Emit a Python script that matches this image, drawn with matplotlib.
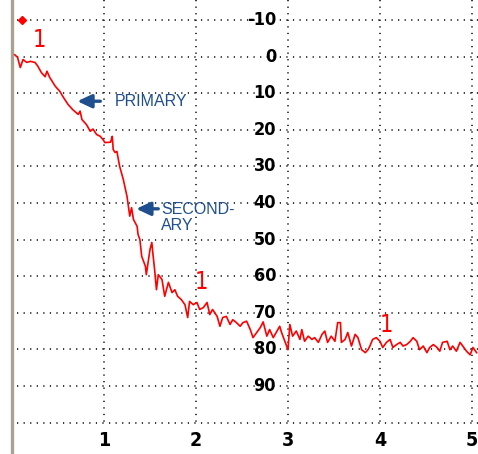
import numpy as np
import matplotlib.pyplot as plt

# curve: x (time) and depth
x = [0.03, 0.06, 0.09, 0.12, 0.16, 0.20, 0.25, 0.28, 0.32, 0.36, 0.38, 0.41,
     0.47, 0.52, 0.56, 0.61, 0.66, 0.72, 0.74, 0.76, 0.81, 0.85, 0.88, 0.92,
     0.96, 0.99, 1.01, 1.07, 1.08, 1.09, 1.10, 1.12, 1.14, 1.17, 1.21, 1.25,
     1.28, 1.30, 1.32, 1.36, 1.37, 1.39, 1.41, 1.45, 1.46, 1.50, 1.52, 1.53,
     1.55, 1.57, 1.59, 1.63, 1.66, 1.70, 1.74, 1.77, 1.80, 1.84, 1.88, 1.91,
     1.93, 1.97, 2.01, 2.04, 2.08, 2.12, 2.15, 2.18, 2.23, 2.26, 2.29, 2.33,
     2.37, 2.40, 2.44, 2.48, 2.51, 2.55, 2.59, 2.62, 2.66, 2.70, 2.73, 2.77,
     2.80, 2.84, 2.88, 2.91, 2.93, 2.97, 3.00, 3.02, 3.05, 3.09, 3.13, 3.15,
     3.18, 3.22, 3.26, 3.29, 3.33, 3.37, 3.40, 3.43, 3.47, 3.51, 3.54, 3.57,
     3.58, 3.62, 3.65, 3.69, 3.73, 3.76, 3.80, 3.84, 3.87, 3.89, 3.92, 3.96,
     4.00, 4.03, 4.07, 4.11, 4.14, 4.18, 4.22, 4.25, 4.29, 4.33, 4.36, 4.40,
     4.43, 4.47, 4.51, 4.54, 4.58, 4.62, 4.65, 4.68, 4.73, 4.76, 4.79, 4.83,
     4.87, 4.90, 4.94, 4.98, 5.01, 5.05]
depth = [-0.5, 0.2, 3.0, 0.8, 1.6, 1.3, 1.6, 2.6, 4.4, 5.5, 4.0, 5.7,
         8.1, 9.5, 11.2, 13.1, 14.5, 15.8, 14.9, 17.2, 18.6, 20.4, 19.8, 21.3,
         21.8, 22.7, 23.5, 23.4, 22.7, 21.8, 25.4, 26.2, 25.9, 30.0, 33.6, 38.2,
         43.6, 41.3, 44.5, 46.4, 48.6, 50.0, 54.6, 57.3, 59.6, 52.7, 50.8, 53.5,
         58.2, 63.7, 59.6, 60.9, 65.5, 61.7, 64.5, 63.7, 65.5, 66.4, 67.8, 71.3,
         66.9, 67.8, 67.2, 69.1, 68.6, 67.2, 70.5, 69.1, 71.0, 73.7, 71.3, 71.0,
         73.2, 71.9, 72.7, 73.7, 72.7, 72.3, 74.6, 76.8, 75.4, 74.0, 72.5, 76.4,
         74.6, 76.8, 75.0, 73.7, 75.4, 78.1, 80.1, 73.2, 76.4, 75.0, 77.3, 74.6,
         77.8, 76.4, 77.3, 76.8, 78.1, 75.9, 75.0, 78.1, 76.4, 77.8, 72.7, 72.7,
         78.1, 77.3, 75.4, 79.1, 75.9, 76.8, 80.1, 80.9, 80.1, 79.1, 77.3, 76.8,
         77.8, 79.5, 78.1, 77.3, 79.5, 78.7, 78.1, 79.1, 78.7, 77.8, 76.8, 77.8,
         80.1, 79.1, 80.9, 79.5, 78.7, 79.5, 80.5, 78.1, 77.8, 80.1, 79.1, 80.5,
         78.1, 79.1, 80.5, 81.5, 79.5, 80.9]

y_ticks = [-10, 0, 10, 20, 30, 40, 50, 60, 70, 80, 90]
y_grid = y_ticks + [100]
x_ticks = [1, 2, 3, 4, 5]

# red "1" marks
mark_x = [0.30, 2.06, 4.07]
mark_y = [-4.4, 61.5, 73.3]

blue = '#1f4f8f'
cond = dict(family='DejaVu Sans', fontstretch='condensed')

fig = plt.figure(figsize=(4.78, 4.54), dpi=100)
ax = fig.add_axes([0, 0, 1, 1])
ax.set_xlim(-12 / 92, 466 / 92)
ax.set_ylim(108.6, -15.46)
ax.axis('off')

dots = (0, (0.8, 3.5))
ax.vlines(x_ticks, -15.5, 100, colors='black', linestyles=dots, linewidth=1.1)
ax.hlines(y_grid, 0.05, 5.1, colors='black', linestyles=dots, linewidth=1.1)
ax.axvline(0, color='#a8a294', linewidth=2.4)

for v in y_ticks:
    ax.text(2.87, v, str(v), ha='right', va='center', fontsize=13,
            fontweight='bold', color='black', **cond)
for v in x_ticks:
    ax.text(v, 104.8, str(v), ha='center', va='center', fontsize=14,
            fontweight='bold', color='black', **cond)

ax.plot(x, depth, color='#ff0000', linewidth=1.2)
ax.plot([0.11], [-10], marker='D', color='#ff0000', markersize=4.5)
for mx, my in zip(mark_x, mark_y):
    ax.text(mx, my, '1', ha='center', va='center', fontsize=17,
            color='#ff0000', **cond)

arrow = dict(arrowstyle='-|>,head_length=0.85,head_width=0.4',
             color=blue, linewidth=2.4, shrinkA=0, shrinkB=0)
ax.annotate('', xy=(0.71, 12.2), xytext=(0.96, 12.2), arrowprops=arrow)
ax.text(1.12, 12.2, 'PRIMARY', ha='left', va='center', fontsize=11.5,
        family='Liberation Sans', color=blue)
ax.annotate('', xy=(1.35, 41.6), xytext=(1.59, 41.6), arrowprops=arrow)
ax.text(1.62, 44.0, 'SECOND-\nARY', ha='left', va='center', fontsize=11.5,
        family='Liberation Sans', color=blue, linespacing=1.15)

fig.savefig('out.png', dpi=100)
